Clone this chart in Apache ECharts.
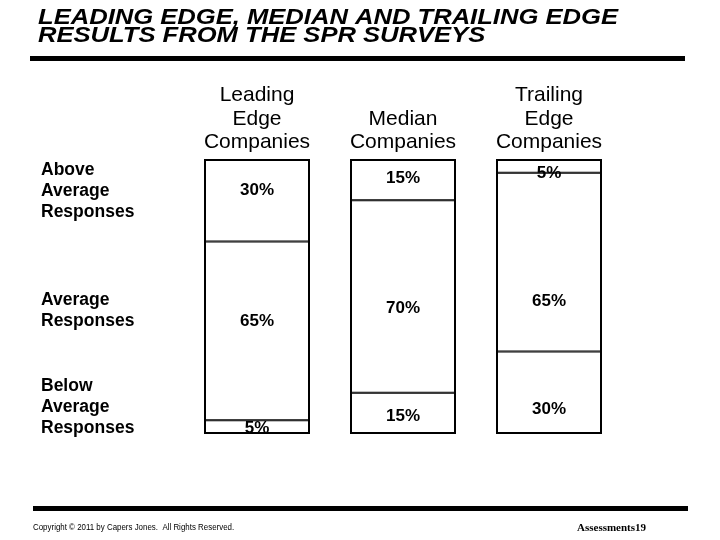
<!DOCTYPE html>
<html>
<head>
<meta charset="utf-8">
<script src="https://cdn.jsdelivr.net/npm/echarts@6/dist/echarts.min.js"></script>
<style>
  html, body { margin: 0; padding: 0; background: #fff; }
  #chart-container { width: 720px; height: 540px; }
</style>
</head>
<body>
<div id="chart-container"></div>
<script>
var groups = ["Leading\nEdge\nCompanies", "Median\nCompanies", "Trailing\nEdge\nCompanies"];
var belowAverage = [5, 15, 30];
var average = [65, 70, 65];
var aboveAverage = [30, 15, 5];
var rowLabels = ["Above\nAverage\nResponses", "Average\nResponses", "Below\nAverage\nResponses"];

// labels in the original sit a bit off the segment centres
var labelShiftY = {
  below: [1, 3, 17],
  average: [-10, 12, 39],
  above: [-10, -1, 7]
};

var FONT = '"Liberation Sans", Arial, sans-serif';

var dom = document.getElementById("chart-container");
var myChart = echarts.init(dom, null, { renderer: "canvas" });

function makeSeries(name, values, shifts) {
  return {
    name: name,
    type: "bar",
    stack: "all",
    barWidth: 106,
    barGap: "-100%",
    silent: true,
    itemStyle: { color: "#fff", borderColor: "#000", borderWidth: 1 },
    label: {
      show: true,
      position: "inside",
      formatter: "{c}%",
      color: "#000",
      fontFamily: FONT,
      fontWeight: "bold",
      fontSize: 17
    },
    data: values.map(function (v, i) {
      return { value: v, label: { offset: [0, shifts[i]] } };
    })
  };
}

// outer frame of each column = total of the three segments
var totals = belowAverage.map(function (v, i) {
  return v + average[i] + aboveAverage[i];
});

var option = {
  animation: false,
  backgroundColor: "#fff",
  grid: { left: 184, right: 98, top: 159, bottom: 106 },
  xAxis: {
    type: "category",
    position: "top",
    data: groups,
    axisLine: { show: false },
    axisTick: { show: false },
    axisLabel: {
      color: "#000",
      fontFamily: FONT,
      fontSize: 21,
      lineHeight: 23.5,
      margin: 5
    }
  },
  yAxis: { type: "value", min: 0, max: 100, show: false },
  series: [
    makeSeries("Below Average Responses", belowAverage, labelShiftY.below),
    makeSeries("Average Responses", average, labelShiftY.average),
    makeSeries("Above Average Responses", aboveAverage, labelShiftY.above),
    {
      name: "frame",
      type: "bar",
      barWidth: 106,
      barGap: "-100%",
      silent: true,
      z: 3,
      itemStyle: { color: "rgba(0,0,0,0)", borderColor: "#000", borderWidth: 2 },
      data: totals
    }
  ],
  graphic: [
    {
      type: "text",
      x: 38, y: 27.5,
      scaleX: 1.19,
      style: {
        text: "LEADING EDGE, MEDIAN AND TRAILING EDGE\nRESULTS FROM THE SPR SURVEYS",
        font: "italic bold 21.5px " + FONT,
        lineHeight: 18,
        verticalAlign: "middle",
        fill: "#000"
      }
    },
    { type: "rect", shape: { x: 30, y: 56, width: 655, height: 5 }, style: { fill: "#000" } },
    { type: "rect", shape: { x: 33, y: 506, width: 655, height: 5 }, style: { fill: "#000" } },
    {
      type: "text", x: 41, y: 191,
      style: { text: rowLabels[0], font: "bold 17.5px " + FONT, lineHeight: 21, verticalAlign: "middle", fill: "#000" }
    },
    {
      type: "text", x: 41, y: 310.5,
      style: { text: rowLabels[1], font: "bold 17.5px " + FONT, lineHeight: 21, verticalAlign: "middle", fill: "#000" }
    },
    {
      type: "text", x: 41, y: 407,
      style: { text: rowLabels[2], font: "bold 17.5px " + FONT, lineHeight: 21, verticalAlign: "middle", fill: "#000" }
    },
    {
      type: "text", x: 33, y: 528, scaleX: 0.88,
      style: { text: "Copyright © 2011 by Capers Jones.  All Rights Reserved.", font: "9px " + FONT, verticalAlign: "middle", fill: "#000" }
    },
    {
      type: "text", x: 577, y: 528,
      style: { text: "Assessments19", font: 'bold 11px "Liberation Serif", serif', verticalAlign: "middle", fill: "#000" }
    }
  ]
};

myChart.setOption(option);
window.addEventListener("resize", myChart.resize);
</script>
</body>
</html>
